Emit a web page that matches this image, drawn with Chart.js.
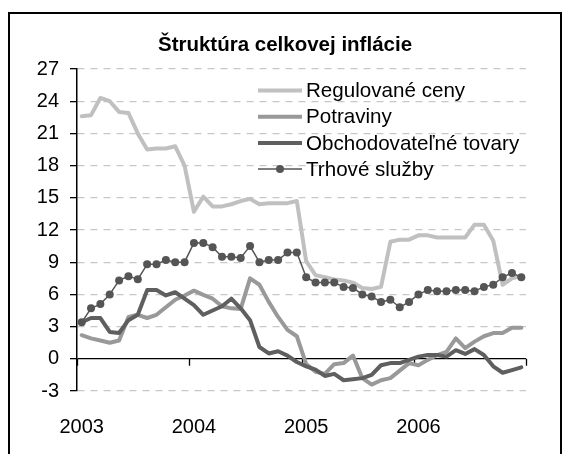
<!DOCTYPE html>
<html>
<head>
<meta charset="utf-8">
<script src="https://cdn.jsdelivr.net/npm/chart.js@4.4.1/dist/chart.umd.min.js"></script>
<style>
  html, body { margin: 0; padding: 0; background: #fff; overflow: hidden; }
  #wrap { position: relative; width: 566px; height: 454px; }
  #frame { position: absolute; left: 8px; top: 12px; width: 550px; height: 470px; border: 2px solid #000; pointer-events: none; }
  canvas { position: absolute; left: 0; top: 0; }
</style>
</head>
<body>
<div id="wrap">
  <canvas id="chart" width="566" height="454"></canvas>
  <div id="frame"></div>
</div>
<script>
const FONT = '"Liberation Sans", Arial, sans-serif';
const chartTitle = 'Štruktúra celkovej inflácie';

// monthly data, Jan 2003 - Dec 2006
const years = ['2003', '2004', '2005', '2006'];
const months = [];
years.forEach(y => { for (let m = 1; m <= 12; m++) months.push(m + '/' + y); });

const seriesNames = ['Regulované ceny', 'Potraviny', 'Obchodovateľné tovary', 'Trhové služby'];

const regulovane = [22.6, 22.7, 24.3, 24.0, 23.0, 22.9, 21.0, 19.5, 19.6, 19.6, 19.8, 18.0,
                    13.7, 15.1, 14.2, 14.2, 14.4, 14.7, 14.9, 14.4, 14.5, 14.5, 14.5, 14.7,
                    9.1, 7.8, 7.6, 7.4, 7.3, 7.1, 6.6, 6.5, 6.7, 10.9, 11.1, 11.1,
                    11.5, 11.5, 11.3, 11.3, 11.3, 11.3, 12.5, 12.5, 11.0, 6.9, 7.5, 7.7];
const potraviny = [2.2, 1.9, 1.7, 1.5, 1.7, 3.9, 4.1, 3.8, 4.1, 4.8, 5.5, 5.9,
                   6.35, 5.95, 5.6, 4.9, 4.7, 4.65, 7.5, 6.9, 5.3, 3.9, 2.7, 2.1,
                   -0.5, -1.2, -1.4, -0.5, -0.4, 0.3, -1.8, -2.4, -2.0, -1.8, -1.1, -0.4,
                   -0.6, -0.1, 0.35, 0.65, 1.9, 1.0, 1.6, 2.1, 2.4, 2.4, 2.9, 2.9];
const obchodovatelne = [3.4, 3.8, 3.8, 2.5, 2.4, 3.6, 4.1, 6.4, 6.4, 5.9, 6.2, 5.6,
                        5.0, 4.1, 4.5, 4.9, 5.6, 4.7, 3.6, 1.1, 0.5, 0.7, 0.3, -0.3,
                        -0.7, -1.0, -1.6, -1.4, -2.0, -1.9, -1.8, -1.5, -0.6, -0.4, -0.4, -0.1,
                        0.2, 0.35, 0.35, 0.2, 0.8, 0.45, 0.9, 0.35, -0.7, -1.3, -1.05, -0.8];
const trhove = [3.4, 4.7, 5.1, 6.0, 7.3, 7.7, 7.4, 8.8, 8.8, 9.2, 9.0, 9.0,
                10.8, 10.8, 10.4, 9.5, 9.5, 9.4, 10.5, 9.0, 9.2, 9.2, 9.9, 9.9,
                7.6, 7.1, 7.1, 7.1, 6.7, 6.6, 6.0, 5.8, 5.3, 5.5, 4.8, 5.3,
                6.0, 6.4, 6.3, 6.3, 6.4, 6.4, 6.3, 6.7, 6.9, 7.6, 8.0, 7.6];

// zero line ticks at year boundaries
const zeroAxis = {
    id: 'zeroAxis',
    beforeDatasetsDraw(chart) {
        const x = chart.scales.x, y = chart.scales.y;
        const y0 = y.getPixelForValue(0);
        const c = chart.ctx;
        c.save();
        c.strokeStyle = '#000';
        c.lineWidth = 1.3;
        c.beginPath();
        for (let i = 0; i <= months.length; i += 12) {
            const px = Math.round(x.getPixelForValue(i - 0.5)) + 0.5;
            c.moveTo(px, y0);
            c.lineTo(px, y0 + 7);
        }
        c.stroke();
        c.restore();
    }
};

// title centred in the outer frame, legend inside the plot
const frameTitle = {
    id: 'frameTitle',
    afterDraw(chart) {
        const c = chart.ctx;
        c.save();
        c.font = 'bold 20.5px ' + FONT;
        c.fillStyle = '#000';
        c.textAlign = 'center';
        c.textBaseline = 'middle';
        c.fillText(chartTitle, 285, 45);
        c.restore();
    }
};

const sampleLegend = {
    id: 'sampleLegend',
    afterDraw(chart) {
        const c = chart.ctx;
        c.save();
        c.font = '20.6px ' + FONT;
        c.textBaseline = 'middle';
        seriesNames.forEach((name, i) => {
            const ds = chart.data.datasets[i];
            const y = 90.5 + i * 26.2;
            c.strokeStyle = ds.borderColor;
            c.lineWidth = ds.borderWidth;
            c.beginPath();
            c.moveTo(258, y);
            c.lineTo(302, y);
            c.stroke();
            if (ds.pointRadius > 0) {
                c.fillStyle = ds.pointBackgroundColor;
                c.beginPath();
                c.arc(280, y, ds.pointRadius, 0, Math.PI * 2);
                c.fill();
            }
            c.fillStyle = '#000';
            c.fillText(name, 306, y + 1);
        });
        c.restore();
    }
};

const ctx = document.getElementById('chart').getContext('2d');
const chart = new Chart(ctx, {
    type: 'line',
    data: {
        labels: months,
        datasets: [{
            label: seriesNames[0],
            data: regulovane,
            borderColor: '#c0c0c0',
            borderWidth: 4,
            pointRadius: 0,
            order: 4
        }, {
            label: seriesNames[1],
            data: potraviny,
            borderColor: '#999999',
            borderWidth: 4,
            pointRadius: 0,
            order: 3
        }, {
            label: seriesNames[2],
            data: obchodovatelne,
            borderColor: '#5f5f5f',
            borderWidth: 4,
            pointRadius: 0,
            order: 2
        }, {
            label: seriesNames[3],
            data: trhove,
            borderColor: '#555555',
            borderWidth: 1.5,
            pointRadius: 4,
            pointBorderWidth: 0,
            pointBackgroundColor: '#555555',
            order: 1
        }]
    },
    options: {
        responsive: false,
        animation: false,
        layout: { padding: { top: 69, right: 40, left: 0, bottom: 0 } },
        elements: { line: { tension: 0, borderJoinStyle: 'round', borderCapStyle: 'round' } },
        plugins: {
            legend: { display: false },
            tooltip: { enabled: false },
            title: { display: false }
        },
        scales: {
            x: {
                offset: true,
                grid: { display: false, drawTicks: false },
                border: { display: false },
                ticks: {
                    autoSkip: false,
                    maxRotation: 0,
                    padding: 24,
                    color: '#000',
                    font: { family: FONT, size: 20 },
                    callback: (v, i) => i % 12 === 0 ? years[i / 12] : ''
                },
                afterFit: s => { s.height = 63; }
            },
            y: {
                min: -3,
                max: 27,
                ticks: {
                    stepSize: 3,
                    padding: 11,
                    color: '#000',
                    font: { family: FONT, size: 20 }
                },
                grid: {
                    color: c => (c.tick && c.tick.value === 0) ? '#000' : '#c8c8c8',
                    lineWidth: 1.3,
                    tickColor: '#000',
                    tickLength: 7,
                    tickWidth: 1.3
                },
                border: {
                    display: true,
                    color: '#000',
                    width: 1.5,
                    dash: c => (c.tick && c.tick.value === 0) ? [] : [7, 6]
                },
                afterFit: s => { s.width = 77; }
            }
        }
    },
    plugins: [zeroAxis, frameTitle, sampleLegend]
});
</script>
</body>
</html>
